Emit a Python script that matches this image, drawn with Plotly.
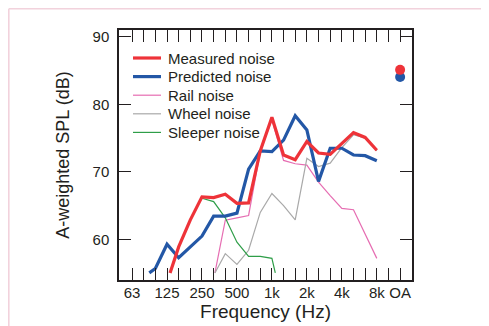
import plotly.graph_objects as go

# 1/3-octave band centres (index = position on the x axis), plus overall (OA)
bands = ["63", "80", "100", "125", "160", "200", "250", "315", "400", "500", "630",
         "800", "1k", "1.25k", "1.6k", "2k", "2.5k", "3.15k", "4k", "5k", "6.3k",
         "8k", "10k", "OA"]
shown_labels = ["63", "125", "250", "500", "1k", "2k", "4k", "8k", "OA"]

# series (x = band index; first point is where each curve enters the 55 dB floor)
measured_x = [3.26, 4, 5, 6, 7, 8, 9, 10, 11, 12, 13, 14, 15, 16, 17, 18, 19, 20, 21]
measured_y = [55.05, 58.9, 62.9, 66.3, 66.2, 66.7, 65.35, 65.4, 73.1, 78.1, 72.5,
              71.8, 74.5, 72.8, 72.6, 74.2, 75.8, 75.1, 73.2]

predicted_x = [1.48, 2, 3, 4, 5, 6, 7, 8, 9, 10, 11, 12, 13, 14, 15, 16, 17, 18, 19, 20, 21]
predicted_y = [55.05, 55.7, 59.3, 57.3, 58.9, 60.5, 63.45, 63.45, 63.9, 70.4, 73.1,
               73.0, 74.7, 78.3, 76.2, 68.6, 73.5, 73.5, 72.5, 72.4, 71.65]

rail_x = [7.11, 8, 9, 10, 11, 12, 13, 14, 15, 16, 17, 18, 19, 20, 21]
rail_y = [55.05, 62.85, 63.2, 63.55, 73.0, 77.7, 71.7, 71.2, 71.0, 68.5, 66.5,
          64.6, 64.4, 60.9, 57.2]

wheel_x = [7.11, 8, 9, 10, 11, 12, 13, 14, 15, 16, 17, 18, 19, 20, 21]
wheel_y = [55.05, 57.9, 56.3, 58.4, 64.0, 66.8, 65.0, 62.9, 72.0, 70.8, 71.3,
           73.6, 75.5, 75.0, 73.1]

sleeper_x = [6, 7, 8, 9, 10, 11, 12, 12.29]
sleeper_y = [66.1, 65.6, 63.2, 59.6, 57.5, 57.5, 57.2, 55.05]

oa_index = 23
measured_oa = 85.1
predicted_oa = 84.05

RED = "#ee3339"
BLUE = "#2357a6"
PINK = "#e66db2"
GRAY = "#a9a9a9"
GREEN = "#2e9e48"
INK = "#231f20"

series = [
    # name, x, y, colour, width, legend order
    ("Rail noise", rail_x, rail_y, PINK, 1.2, 2),
    ("Wheel noise", wheel_x, wheel_y, GRAY, 1.2, 3),
    ("Sleeper noise", sleeper_x, sleeper_y, GREEN, 1.2, 4),
    ("Predicted noise", predicted_x, predicted_y, BLUE, 3.2, 1),
    ("Measured noise", measured_x, measured_y, RED, 3.2, 0),
]

fig = go.Figure()
for name, xs, ys, col, w, _ in series:
    fig.add_trace(go.Scatter(x=xs, y=ys, mode="lines", name=name,
                             line=dict(color=col, width=w), showlegend=False))
fig.add_trace(go.Scatter(x=[oa_index], y=[predicted_oa], mode="markers", showlegend=False,
                         marker=dict(color=BLUE, size=10)))
fig.add_trace(go.Scatter(x=[oa_index], y=[measured_oa], mode="markers", showlegend=False,
                         marker=dict(color=RED, size=10)))

# the page body has an 8px margin; size the figure so it fits the window exactly
OFF = 8
W, H = 489 - OFF, 326 - OFF
ml, mr, mt, mb = 119 - OFF, 77, 30 - OFF, 46
pw, ph = W - ml - mr, H - mt - mb

def px_x(p):  # page pixel -> paper coordinate
    return (p - OFF - ml) / pw

def px_y(p):
    return 1 - (p - OFF - mt) / ph

# legend drawn inside the plot (compact rows like the original)
leg_x0, leg_x1, leg_text, leg_y0, leg_dy = 133, 161, 166, 58, 18.6
for name, xs, ys, col, w, order in series:
    yy = px_y(leg_y0 + order * leg_dy)
    fig.add_shape(type="line", xref="paper", yref="paper",
                  x0=px_x(leg_x0), x1=px_x(leg_x1), y0=yy, y1=yy,
                  line=dict(color=col, width=w))
    fig.add_annotation(xref="paper", yref="paper", x=px_x(leg_text), y=yy,
                       xanchor="left", yanchor="middle", text=name, showarrow=False,
                       font=dict(size=15, color=INK))

ticktext = [b if b in shown_labels else "" for b in bands]

fig.update_layout(
    width=W, height=H,
    margin=dict(l=ml, r=mr, t=mt, b=mb),
    paper_bgcolor="white", plot_bgcolor="white",
    font=dict(family="Arial, Liberation Sans, sans-serif", size=15, color=INK),
    showlegend=False,
    xaxis=dict(range=[-1.12, 24.02], tickmode="array",
               tickvals=list(range(len(bands))), ticktext=ticktext,
               ticks="inside", ticklen=12, tickwidth=1, tickcolor=INK,
               showline=True, linecolor=INK, linewidth=1.5, mirror="ticks",
               showgrid=False, zeroline=False, automargin=False,
               tickfont=dict(size=15, color=INK), ticklabelstandoff=-2,
               title=dict(text="Frequency (Hz)", font=dict(size=19, color=INK), standoff=4)),
    yaxis=dict(range=[54, 91], tickvals=[60, 70, 80, 90],
               ticks="inside", ticklen=12, tickwidth=1, tickcolor=INK,
               showline=True, linecolor=INK, linewidth=1.5, mirror="ticks",
               showgrid=False, zeroline=False, automargin=False,
               tickfont=dict(size=15, color=INK), ticklabelstandoff=5,
               title=dict(text="A-weighted SPL (dB)", font=dict(size=18, color=INK), standoff=18)),
)

# light pink outer frame of the figure panel
pink_frame = "#f2d2dc"
fig.add_shape(type="line", xref="paper", yref="paper",
              x0=px_x(OFF + 0.8), x1=px_x(489 + 5), y0=px_y(OFF + 0.8), y1=px_y(OFF + 0.8),
              line=dict(color=pink_frame, width=1.6), layer="below")
fig.add_shape(type="line", xref="paper", yref="paper",
              x0=px_x(OFF + 0.8), x1=px_x(OFF + 0.8), y0=px_y(OFF + 0.8), y1=px_y(326 + 5),
              line=dict(color=pink_frame, width=1.6), layer="below")

fig.write_html("out.html")
